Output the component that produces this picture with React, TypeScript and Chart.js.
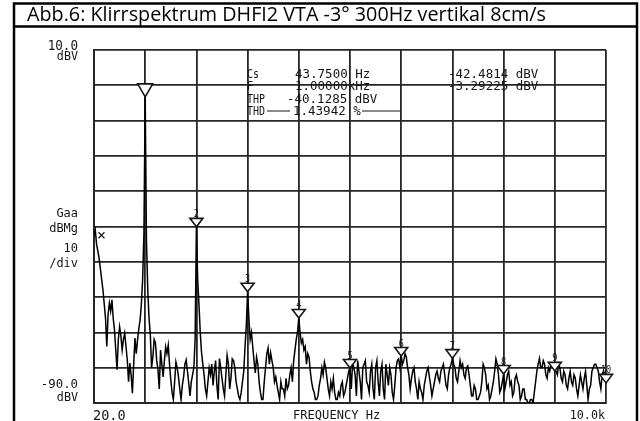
import React, { useEffect, useRef } from 'react';
import { Chart, registerables } from 'chart.js';

Chart.register(...registerables);

// ---------- data ----------
const chartTitle = 'Abb.6: Klirrspektrum DHFI2 VTA -3° 300Hz vertikal 8cm/s';

const freqMinHz = 0;
const freqMaxHz = 3000;
const freqDivHz = 300;
const levelMinDbv = -90;
const levelMaxDbv = 10;
const levelDivDb = 10;

// analyser trace, one value per 7.5 Hz bin starting at 0 Hz (20 values = 150 Hz per row)
const binWidthHz = 7.5;
const traceDbv = [
  -42.5, -41, -45, -47, -49, -52, -55, -58, -62, -66, -74, -65, -61.7, -64, -60.8, -66, -69.3, -75, -80.6, -72,
  -68.4, -71, -75, -72, -70.2, -74, -77.8, -84, -78.7, -82, -87.2, -79, -71.6, -76, -72.2, -69, -66.5, -62, -55, -42,
  -3.29, -44, -58, -66, -70.7, -80, -76.9, -72, -73, -78, -80.7, -86, -75, -79, -82.6, -78, -74.1, -76, -73.6, -79,
  -83.5, -87, -89, -84, -78.4, -80, -82.6, -86, -89, -85, -82.6, -79, -77.8, -81, -84.3, -88, -84, -82, -80, -72,
  -40.1, -55, -62, -70, -75.6, -79, -82, -86, -88, -84, -80, -82, -79, -85, -81, -78, -85, -89, -77.4, -80,
  -83, -86, -88, -82, -76.5, -79, -86, -83, -77.5, -78, -80, -84, -86, -88, -89, -87, -84, -81, -74, -68,
  -58.5, -66, -72, -70, -74, -78, -81.5, -77, -79, -84, -87, -89, -89, -84, -80, -76, -74.4, -79, -75.8, -78,
  -80, -84, -82.6, -85, -87, -89, -84, -86, -86, -88, -83, -86, -85, -82, -80, -84, -78, -75, -72, -70,
  -65.9, -70, -73, -72, -75, -74, -79, -76, -77, -81, -84, -86, -87, -89, -89, -88, -85, -83, -80, -82,
  -78.4, -80, -83, -86, -88, -84, -86, -83, -87, -89, -89, -87, -88, -85, -84, -88, -87, -85, -83, -81,
  -80.1, -86, -78.7, -80, -82, -88, -78, -81, -84, -89, -80, -79, -78, -84, -85, -87, -81, -79, -86, -89,
  -80, -78, -84, -88, -81, -79, -86, -89, -79, -82, -85, -80, -82, -87, -89, -85, -80, -78, -77.5, -80,
  -76.7, -79, -78, -76, -77, -80, -82, -86, -83, -81, -80, -84, -86, -89, -84, -86, -87, -89, -85, -83,
  -81, -80, -82.6, -85, -88, -86, -84, -82, -81, -83, -84, -81, -80, -79, -82, -85, -86, -82, -80, -79,
  -77.3, -79, -80, -83, -84, -81, -78, -80, -79, -82, -83, -80, -79.5, -82, -85, -88, -88, -85, -86, -89,
  -89, -88, -87, -84, -79, -80, -82, -86, -85, -89, -88, -86, -84, -81, -77.5, -79, -82, -87, -86, -84,
  -81.8, -86, -84, -82, -81, -85, -84, -88, -87, -83, -82, -84, -85, -89, -88, -86, -86, -89, -89, -90,
  -90, -89, -89, -90, -87, -84, -81, -79, -77.4, -80, -80, -78, -79, -82, -83, -80, -81, -79, -78.8, -80,
  -80.9, -81, -82, -79, -80, -83, -84, -81, -82, -85, -86, -83, -81, -84, -85, -82, -83, -86, -88, -85,
  -82, -84, -86, -83, -81, -85, -89, -86, -85, -81, -80, -79, -79, -80, -81, -84, -86, -82, -81, -83,
  -84.3,
];

const harmonicHz = [300, 600, 900, 1200, 1500, 1800, 2100, 2400, 2700, 3000];
const harmonicDbv = [-3.29, -40.1, -58.5, -65.9, -80.1, -76.7, -77.3, -81.8, -80.9, -84.3];
const harmonicNumbers = ['', '2', '3', '4', '5', '6', '7', '8', '9', '10'];

const cursorHz = 43.75;
const cursorDbv = -42.4814;

const yTopLabels = ['10.0', 'dBV'];
const yMidLabels = ['Gaa', 'dBMg', '10', '/div'];
const yBottomLabels = ['-90.0', 'dBV'];
const xLeftLabel = '20.0';
const xMidLabel = 'FREQUENCY Hz';
const xRightLabel = '10.0k';

const readoutNames = ['Cs', 'F', 'THP', 'THD'];
const readoutValues = ['43.7500 Hz', '1.00000kHz', '-40.1285 dBV', '1.43942 %'];
const readoutRight = ['-42.4814 dBV', '-3.29225 dBV'];

// ---------- drawing ----------
const MONO = '"DejaVu Sans Mono", "Liberation Mono", monospace';
const INK = '#151515';

function drawCondensed(ctx: CanvasRenderingContext2D, text: string, x: number, y: number, sx: number, align: 'left' | 'right' | 'center') {
  ctx.save();
  ctx.translate(x, y);
  ctx.scale(sx, 1);
  ctx.textAlign = align;
  ctx.fillText(text, 0, 0);
  ctx.restore();
}

const decorPlugin = {
  id: 'decor',
  beforeDraw(chart: any) {
    const ctx = chart.ctx as CanvasRenderingContext2D;
    ctx.save();
    ctx.fillStyle = '#fff';
    ctx.fillRect(0, 0, chart.width, chart.height);
    ctx.restore();
  },
  afterDatasetsDraw(chart: any) {
    const ctx = chart.ctx as CanvasRenderingContext2D;
    const xs = chart.scales.x;
    const ys = chart.scales.y;
    const area = chart.chartArea;
    ctx.save();

    // harmonic markers
    harmonicHz.forEach((f, k) => {
      const px = xs.getPixelForValue(f);
      const py = ys.getPixelForValue(harmonicDbv[k]);
      const big = k === 0;
      const hw = big ? 7.5 : 6.5;
      const h = big ? 13 : 8.5;
      ctx.beginPath();
      ctx.moveTo(px, py);
      ctx.lineTo(px - hw, py - h);
      ctx.lineTo(px + hw, py - h);
      ctx.closePath();
      ctx.fillStyle = '#fff';
      ctx.fill();
      ctx.lineWidth = 1.6;
      ctx.strokeStyle = INK;
      ctx.stroke();
      if (harmonicNumbers[k]) {
        ctx.fillStyle = INK;
        ctx.font = '10px ' + MONO;
        ctx.textBaseline = 'alphabetic';
        drawCondensed(ctx, harmonicNumbers[k], px, py - h - 1, 0.85, 'center');
      }
    });

    // cursor mark
    {
      const px = xs.getPixelForValue(cursorHz);
      const py = ys.getPixelForValue(cursorDbv);
      ctx.strokeStyle = INK;
      ctx.lineWidth = 1.2;
      ctx.beginPath();
      ctx.moveTo(px - 3, py - 3); ctx.lineTo(px + 3, py + 3);
      ctx.moveTo(px + 3, py - 3); ctx.lineTo(px - 3, py + 3);
      ctx.stroke();
    }

    // readout block
    ctx.fillStyle = INK;
    ctx.textBaseline = 'alphabetic';
    const rowBase = [77.5, 90, 102.5, 115];
    const valX = [295, 295, 287, 293];
    ctx.font = '12.5px ' + MONO;
    readoutNames.forEach((n, r) => {
      drawCondensed(ctx, n, 247, rowBase[r], 0.8, 'left');
      drawCondensed(ctx, readoutValues[r], valX[r], rowBase[r], 1, 'left');
    });
    readoutRight.forEach((t, r) => {
      drawCondensed(ctx, t, 448, rowBase[r], 1, 'left');
    });
    ctx.strokeStyle = INK;
    ctx.lineWidth = 1.2;
    ctx.beginPath();
    ctx.moveTo(267, 111); ctx.lineTo(290, 111);
    ctx.moveTo(362, 111); ctx.lineTo(400, 111);
    ctx.stroke();

    // axis annotations
    ctx.fillStyle = INK;
    ctx.font = '14px ' + MONO;
    drawCondensed(ctx, yTopLabels[0], 78, 50, 0.9, 'right');
    ctx.font = '13px ' + MONO;
    drawCondensed(ctx, yTopLabels[1], 78, 60, 0.9, 'right');
    const midBase = [217, 232, 252, 267];
    yMidLabels.forEach((t, r) => drawCondensed(ctx, t, 78, midBase[r], 0.92, 'right'));
    drawCondensed(ctx, yBottomLabels[0], 78, 388, 0.95, 'right');
    drawCondensed(ctx, yBottomLabels[1], 78, 400.5, 0.9, 'right');
    ctx.font = '13.5px ' + MONO;
    drawCondensed(ctx, xLeftLabel, area.left - 1, 420, 1, 'left');
    ctx.font = '13px ' + MONO;
    drawCondensed(ctx, xMidLabel, 293, 418.5, 0.93, 'left');
    drawCondensed(ctx, xRightLabel, area.right - 1, 418.5, 0.9, 'right');

    // outer frame and title
    ctx.strokeStyle = '#000';
    ctx.lineWidth = 2.5;
    ctx.beginPath();
    ctx.moveTo(14, 423); ctx.lineTo(14, 3.5); ctx.lineTo(637, 3.5); ctx.lineTo(637, 423);
    ctx.moveTo(14, 26.5); ctx.lineTo(637, 26.5);
    ctx.stroke();

    let fs = 17;
    ctx.font = `${fs}px "Open Sans", "Noto Sans", sans-serif`;
    const w = ctx.measureText(chartTitle).width;
    fs = fs * 519 / w;
    ctx.font = `${fs}px "Open Sans", "Noto Sans", sans-serif`;
    ctx.fillStyle = '#000';
    ctx.textAlign = 'left';
    ctx.fillText(chartTitle, 27, 21);

    ctx.restore();
  },
};

export default function App() {
  const ref = useRef<HTMLCanvasElement | null>(null);

  useEffect(() => {
    document.body.style.margin = '0';
    const points = traceDbv.map((v, i) => ({ x: freqMinHz + i * binWidthHz, y: v }));
    const gridCommon = {
      color: '#262626',
      lineWidth: 1.8,
      drawTicks: false,
    };
    const chart = new Chart(ref.current as HTMLCanvasElement, {
      type: 'line',
      data: {
        datasets: [
          {
            data: points,
            borderColor: '#000',
            borderWidth: 1.5,
            pointRadius: 0,
            tension: 0,
            fill: false,
          },
        ],
      },
      options: {
        responsive: false,
        animation: false,
        events: [],
        layout: { padding: { left: 94, right: 34, top: 50, bottom: 18 } },
        plugins: { legend: { display: false }, tooltip: { enabled: false }, title: { display: false } },
        scales: {
          x: {
            type: 'linear',
            min: freqMinHz,
            max: freqMaxHz,
            ticks: { display: false, stepSize: freqDivHz },
            grid: gridCommon,
            border: { display: true, color: '#262626', width: 2 },
          },
          y: {
            type: 'linear',
            min: levelMinDbv,
            max: levelMaxDbv,
            ticks: { display: false, stepSize: levelDivDb },
            grid: gridCommon,
            border: { display: true, color: '#262626', width: 2 },
          },
        },
      } as any,
      plugins: [decorPlugin],
    });
    return () => chart.destroy();
  }, []);

  return (
    <div style={{ position: 'absolute', left: 0, top: 0, width: 640, height: 421, background: '#fff' }}>
      <canvas ref={ref} width={640} height={421} style={{ display: 'block', width: 640, height: 421 }} />
    </div>
  );
}
